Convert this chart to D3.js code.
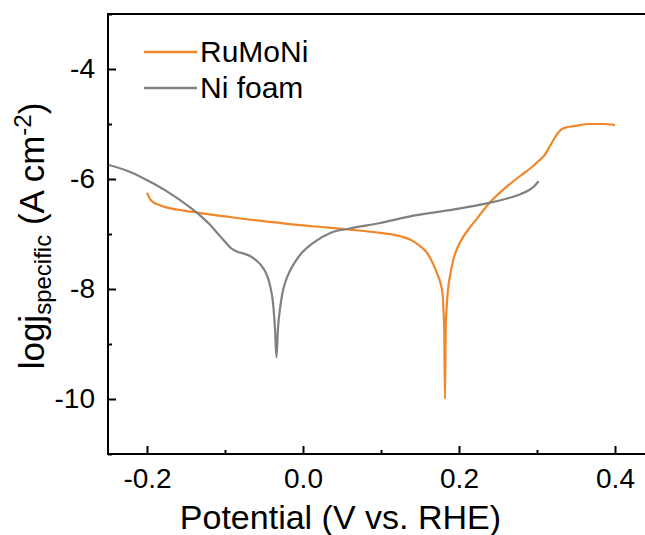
<!DOCTYPE html>
<html lang="en">
<head>
    <meta charset="UTF-8">
    <script src="https://d3js.org/d3.v7.min.js"></script>
    <title>Tafel plot</title>
    <style>
        body { margin: 0; background: #fff; }
        text { font-family: "Liberation Sans", Arial, sans-serif; }
    </style>
</head>
<body>
    <script>
        // potential (V vs. RHE) and log j for each sample
        var ruPotential = [-0.2, -0.197, -0.194, -0.185, -0.174, -0.155, -0.136, -0.1, -0.068, -0.035,
            -0.004, 0.03, 0.06, 0.099, 0.125, 0.14, 0.15, 0.16, 0.167, 0.172, 0.176, 0.179, 0.18, 0.181,
            0.182, 0.183, 0.184, 0.186, 0.189, 0.193, 0.198, 0.206, 0.214, 0.223, 0.24, 0.257, 0.278,
            0.292, 0.3, 0.31, 0.319, 0.325, 0.331, 0.338, 0.347, 0.368, 0.385, 0.4]
        var ruLogJ = [-6.25, -6.34, -6.4, -6.47, -6.52, -6.57, -6.61, -6.68, -6.74, -6.79,
            -6.84, -6.88, -6.92, -6.98, -7.04, -7.12, -7.22, -7.36, -7.55, -7.72, -7.88, -8.1, -8.37, -8.7,
            -10.0, -8.7, -8.37, -8.0, -7.72, -7.45, -7.25, -7.04, -6.88, -6.72, -6.42, -6.19, -5.95,
            -5.8, -5.7, -5.56, -5.34, -5.2, -5.1, -5.06, -5.04, -5.0, -5.0, -5.02]

        var niPotential = [-0.25, -0.22, -0.196, -0.175, -0.153, -0.132, -0.12, -0.11, -0.1, -0.093,
            -0.085, -0.075, -0.068, -0.06, -0.051, -0.046, -0.042, -0.038, -0.036, -0.034, -0.032,
            -0.029, -0.026, -0.023, -0.016, -0.008, 0.0, 0.013, 0.035, 0.06, 0.099, 0.14, 0.19, 0.24,
            0.265, 0.278, 0.29, 0.295, 0.302]
        var niLogJ = [-5.74, -5.88, -6.05, -6.22, -6.43, -6.66, -6.82, -6.98, -7.14, -7.25,
            -7.32, -7.36, -7.4, -7.48, -7.62, -7.76, -7.95, -8.31, -8.7, -9.24, -8.7,
            -8.31, -8.05, -7.89, -7.65, -7.46, -7.32, -7.16, -6.98, -6.9, -6.8, -6.67, -6.56, -6.43,
            -6.34, -6.28, -6.2, -6.15, -6.04]

        var seriesNames = ["RuMoNi", "Ni foam"]
        var xTicks = [-0.2, 0.0, 0.2, 0.4]
        var xMinor = [-0.1, 0.1, 0.3]
        var yTicks = [-4, -6, -8, -10]
        var yMinor = [-3, -5, -7, -9, -11]

        var width = 645
        var height = 535
        var margin = { top: 14, left: 108 }
        var plotW = 546   // frame runs past the right edge of the picture
        var plotH = 440

        var colors = ["#f0872a", "#808080"]

        var svg = d3.select("body").append("svg")
            .attr("width", width)
            .attr("height", height)

        var g = svg.append("g")
            .attr("transform", "translate(" + margin.left + "," + margin.top + ")")

        var x = d3.scaleLinear().domain([-0.25, 0.45]).range([0, plotW])
        var y = d3.scaleLinear().domain([-11, -3]).range([plotH, 0])

        g.append("clipPath").attr("id", "clip")
            .append("rect").attr("width", plotW).attr("height", plotH)

        var line = d3.line()
            .x(function (d) { return x(d[0]) })
            .y(function (d) { return y(d[1]) })
            .curve(d3.curveMonotoneX)

        var series = [
            d3.zip(ruPotential, ruLogJ),
            d3.zip(niPotential, niLogJ)
        ]

        g.selectAll(".curve")
            .data(series)
            .enter()
            .append("path")
            .attr("class", "curve")
            .attr("clip-path", "url(#clip)")
            .attr("fill", "none")
            .attr("stroke", function (d, i) { return colors[i] })
            .attr("stroke-width", 2.2)
            .attr("stroke-linejoin", "round")
            .attr("d", line)

        // axes, ticks point inward
        var xAxis = g.append("g")
            .attr("transform", "translate(0," + plotH + ")")
            .call(d3.axisBottom(x).tickValues(xTicks).tickSize(-8).tickPadding(14))
        g.append("g")
            .attr("transform", "translate(0," + plotH + ")")
            .call(d3.axisBottom(x).tickValues(xMinor).tickSize(-4).tickFormat(""))

        var yAxis = g.append("g")
            .call(d3.axisLeft(y).tickValues(yTicks).tickSize(-8).tickPadding(13))
        g.append("g")
            .call(d3.axisLeft(y).tickValues(yMinor).tickSize(-4).tickFormat(""))

        g.selectAll(".domain").remove()
        g.selectAll(".tick line").attr("stroke", "#000").attr("stroke-width", 2)
        g.selectAll(".tick text")
            .attr("fill", "#000")
            .style("font-size", "28px")
            .style("font-family", "'Liberation Sans', Arial, sans-serif")
        yAxis.selectAll(".tick text").text(function (d) { return d3.format("d")(d).replace("−", "-") })
        xAxis.selectAll(".tick text").text(function (d) { return d3.format(".1f")(d).replace("−", "-") })

        // frame
        g.append("rect")
            .attr("width", plotW)
            .attr("height", plotH)
            .attr("fill", "none")
            .attr("stroke", "#000")
            .attr("stroke-width", 2)

        // legend
        var legend = g.selectAll(".legend")
            .data(seriesNames)
            .enter()
            .append("g")
            .attr("class", "legend")
            .attr("transform", function (d, i) { return "translate(36," + (38 + i * 36) + ")" })
        legend.append("line")
            .attr("x1", 0).attr("x2", 53)
            .attr("stroke", function (d, i) { return colors[i] })
            .attr("stroke-width", 2.5)
        legend.append("text")
            .attr("x", 56)
            .attr("y", 10)
            .style("font-size", "30px")
            .text(function (d) { return d })

        // axis titles
        svg.append("text")
            .attr("x", margin.left + x(0.048))
            .attr("y", 529)
            .attr("text-anchor", "middle")
            .style("font-size", "34px")
            .text("Potential (V vs. RHE)")

        var yTitle = svg.append("text")
            .attr("transform", "translate(44,236) rotate(-90)")
            .attr("text-anchor", "middle")
            .style("font-size", "35px")
        yTitle.append("tspan").text("logj")
        yTitle.append("tspan").text("specific")
            .style("font-size", "24px").attr("dy", 7)
        yTitle.append("tspan").text(" (A cm").attr("dy", -7)
        yTitle.append("tspan").text("-2")
            .style("font-size", "24px").attr("dy", -13)
        yTitle.append("tspan").text(")").attr("dy", 13)
    </script>
</body>
</html>
